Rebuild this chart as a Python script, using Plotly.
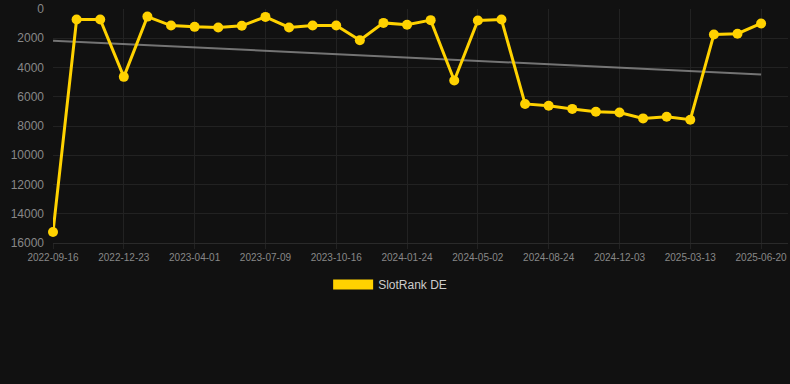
import numpy as np
import plotly.graph_objects as go

dates = [
    "2022-09-16", "2022-10-19", "2022-11-21", "2022-12-23", "2023-01-25",
    "2023-02-27", "2023-04-01", "2023-05-04", "2023-06-06", "2023-07-09",
    "2023-08-11", "2023-09-13", "2023-10-16", "2023-11-18", "2023-12-21",
    "2024-01-24", "2024-02-26", "2024-03-30", "2024-05-02", "2024-06-06",
    "2024-07-20", "2024-08-24", "2024-09-26", "2024-10-30", "2024-12-03",
    "2025-01-05", "2025-02-08", "2025-03-13", "2025-04-15", "2025-05-18",
    "2025-06-20",
]
rank_de = [
    15250, 720, 720, 4640, 520, 1130, 1220, 1260, 1150, 540,
    1260, 1130, 1130, 2140, 950, 1080, 760, 4890, 790, 720,
    6490, 6620, 6830, 7030, 7080, 7480, 7370, 7570, 1740, 1690,
    990,
]
tick_labels = [
    "2022-09-16", "2022-12-23", "2023-04-01", "2023-07-09", "2023-10-16",
    "2024-01-24", "2024-05-02", "2024-08-24", "2024-12-03", "2025-03-13",
    "2025-06-20",
]
y_ticks = [0, 2000, 4000, 6000, 8000, 10000, 12000, 14000, 16000]
series_name = "SlotRank DE"

idx = np.arange(len(rank_de))
slope, intercept = np.polyfit(idx, rank_de, 1)
trend = slope * idx + intercept

gold = "#FFD200"

fig = go.Figure()
fig.add_trace(go.Scatter(
    x=dates, y=trend, mode="lines",
    line=dict(color="rgba(150,150,150,0.75)", width=2),
    showlegend=False, hoverinfo="skip",
))
fig.add_trace(go.Scatter(
    x=dates, y=rank_de, mode="lines+markers",
    line=dict(color=gold, width=3),
    marker=dict(color=gold, size=10),
    showlegend=False, name=series_name, cliponaxis=False,
))
fig.add_trace(go.Scatter(
    x=[None], y=[None], mode="lines",
    line=dict(color=gold, width=10),
    name=series_name, showlegend=True,
))

fig.update_layout(
    width=790, height=384,
    margin=dict(l=53, r=2, t=6, b=141),
    paper_bgcolor="#111111", plot_bgcolor="#111111",
    font=dict(family="Liberation Sans, Arial, sans-serif", color="#888888", size=11),
    legend=dict(
        orientation="h", x=0.4587, xanchor="center", y=-0.177, yanchor="middle",
        font=dict(size=12, color="#cccccc"), itemwidth=40,
    ),
    xaxis=dict(
        type="category", range=[0, len(dates) - 1 + 1.14],
        tickmode="array", tickvals=tick_labels, ticktext=tick_labels,
        showgrid=True, gridcolor="#222222", gridwidth=1,
        ticks="outside", ticklen=5, tickcolor="#222222",
        showline=True, linecolor="#2a2a2a",
        tickfont=dict(size=10, color="#888888"), zeroline=False,
    ),
    yaxis=dict(
        range=[16000, -1], tickmode="array", tickvals=y_ticks,
        ticktext=[str(v) for v in y_ticks], ticklabeloverflow="allow",
        showgrid=True, gridcolor="#222222", gridwidth=1,
        zeroline=False, ticks="", ticklabelstandoff=8,
        tickfont=dict(size=12, color="#888888"),
    ),
)

fig.write_html(
    "out.html",
    config={"displayModeBar": False},
    post_script="document.body.style.margin='0';document.body.style.background='#111111';",
)
